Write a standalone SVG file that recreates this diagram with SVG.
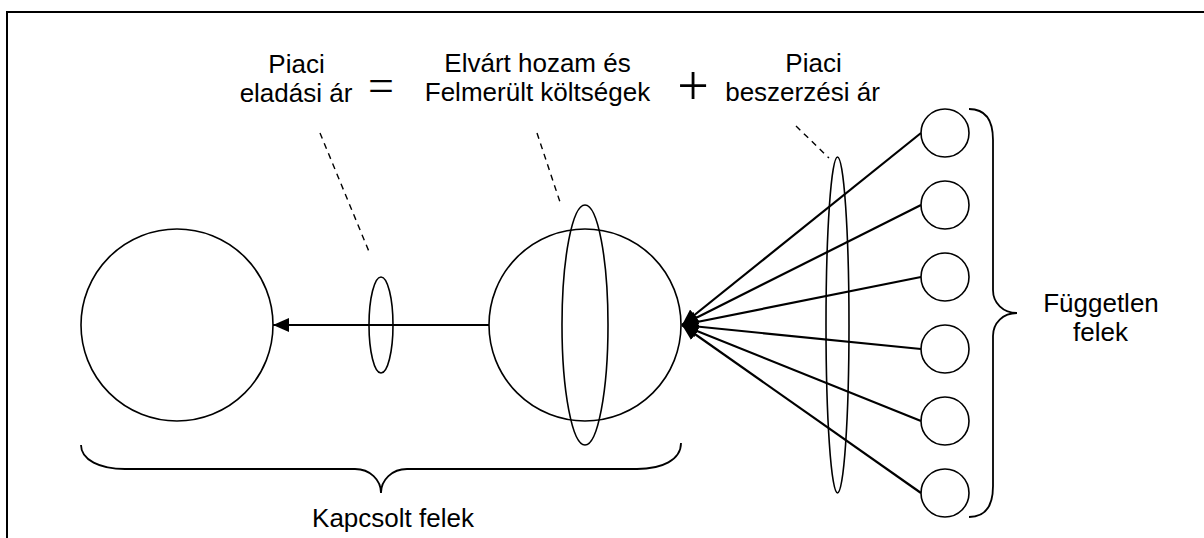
<svg xmlns="http://www.w3.org/2000/svg" width="1204" height="538" viewBox="0 0 1204 538">
  <style>
    .lbl { font-family: "Liberation Sans", Arial, sans-serif; font-size: 26px; fill: #000; text-anchor: middle; }
    .sym { font-family: "Liberation Serif", "Times New Roman", serif; fill: #000; text-anchor: middle; }
    .node { fill: #fff; stroke: #000; stroke-width: 1.6; }
    .ell { fill: none; stroke: #000; stroke-width: 1.6; }
    .dash { fill: none; stroke: #000; stroke-width: 1.4; stroke-dasharray: 6 5; }
    .conn { fill: none; stroke: #000; stroke-width: 2.2; marker-end: url(#arr); }
    .brace { fill: none; stroke: #000; stroke-width: 1.8; }
  </style>
  <defs>
    <marker id="arr" markerUnits="userSpaceOnUse" markerWidth="16" markerHeight="14" refX="16" refY="7" orient="auto">
      <path d="M0,0 L16,7 L0,14 z" fill="#000"/>
    </marker>
  </defs>
  <rect width="1204" height="538" fill="#fff"/>
  <path d="M7,538 L7,12 L1204,12" fill="none" stroke="#000" stroke-width="2"/>

  <g id="kapcsolt-bal">
    <circle class="node" cx="177" cy="325" r="96"/>
  </g>
  <g id="kapcsolt-kozep">
    <circle class="node" cx="585" cy="325" r="96"/>
  </g>
  <g id="fuggetlen-1"><circle class="node" cx="945" cy="133" r="24"/></g>
  <g id="fuggetlen-2"><circle class="node" cx="945" cy="205" r="24"/></g>
  <g id="fuggetlen-3"><circle class="node" cx="945" cy="277" r="24"/></g>
  <g id="fuggetlen-4"><circle class="node" cx="945" cy="349" r="24"/></g>
  <g id="fuggetlen-5"><circle class="node" cx="945" cy="421" r="24"/></g>
  <g id="fuggetlen-6"><circle class="node" cx="945" cy="493" r="24"/></g>

  <g id="connectors">
    <line class="conn" x1="489" y1="325" x2="273" y2="325"/>
    <line class="conn" x1="921" y1="133" x2="682" y2="325"/>
    <line class="conn" x1="921" y1="205" x2="682" y2="325"/>
    <line class="conn" x1="921" y1="277" x2="682" y2="325"/>
    <line class="conn" x1="921" y1="349" x2="682" y2="325"/>
    <line class="conn" x1="921" y1="421" x2="682" y2="325"/>
    <line class="conn" x1="921" y1="493" x2="682" y2="325"/>
  </g>

  <g id="ellipses">
    <ellipse class="ell" cx="381" cy="325" rx="12" ry="48"/>
    <ellipse class="ell" cx="585" cy="325" rx="23" ry="120"/>
    <ellipse class="ell" cx="837.5" cy="325" rx="11.5" ry="168"/>
  </g>

  <g id="pointers">
    <line class="dash" x1="320" y1="133" x2="370" y2="254"/>
    <line class="dash" x1="537" y1="133" x2="561" y2="205"/>
    <line class="dash" x1="796" y1="126" x2="829" y2="158"/>
  </g>

  <g id="label-eladasi">
    <text class="lbl" x="296.5" y="73">Piaci</text>
    <text class="lbl" x="296" y="102">eladási ár</text>
  </g>
  <text class="sym" x="381" y="101" font-size="46">=</text>
  <g id="label-hozam">
    <text class="lbl" x="537.5" y="72">Elvárt hozam és</text>
    <text class="lbl" x="537.5" y="101">Felmerült költségek</text>
  </g>
  <text class="sym" x="693" y="105" font-size="56">+</text>
  <g id="label-beszerzesi">
    <text class="lbl" x="813.5" y="72">Piaci</text>
    <text class="lbl" x="802.5" y="101">beszerzési ár</text>
  </g>

  <g id="brace-kapcsolt">
    <path class="brace" d="M81,445 C81,460 100,469 125,469 L355,469 C370,469 381,480 381,493 C381,480 392,469 407,469 L637,469 C662,469 681,460 681,443"/>
    <text class="lbl" x="393" y="527">Kapcsolt felek</text>
  </g>
  <g id="brace-fuggetlen">
    <path class="brace" d="M969,109 C985,109 993,120 993,140 L993,290 C993,303 1003,313 1017,313 C1003,313 993,323 993,336 L993,486 C993,506 985,517 969,517"/>
    <text class="lbl" x="1101" y="312">Független</text>
    <text class="lbl" x="1100.5" y="341">felek</text>
  </g>
</svg>
